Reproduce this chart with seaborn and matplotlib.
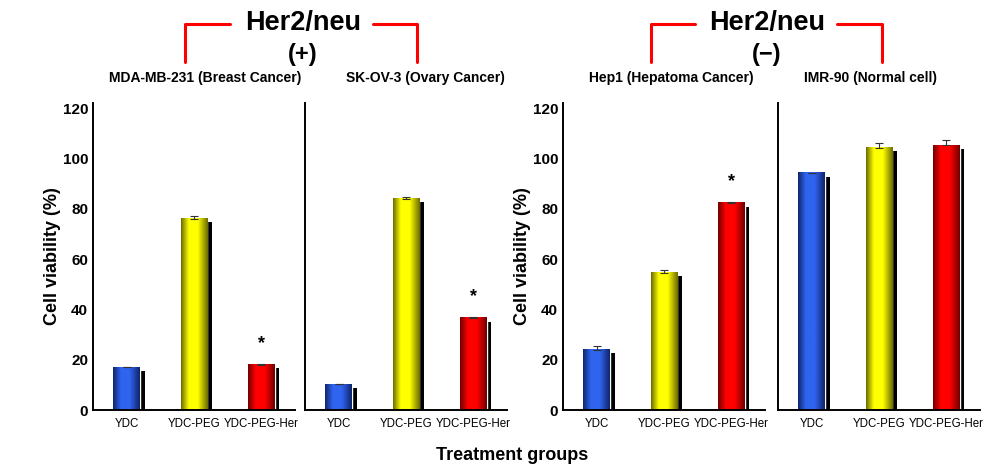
import numpy as np
import pandas as pd
import seaborn as sns
from matplotlib import pyplot as plt
from matplotlib import patheffects as pe
from matplotlib.colors import LinearSegmentedColormap

groups = ["YDC", "YDC-PEG", "YDC-PEG-Her"]
panel_titles = ["MDA-MB-231 (Breast Cancer)", "SK-OV-3 (Ovary Cancer)",
                "Hep1 (Hepatoma Cancer)", "IMR-90 (Normal cell)"]

mda_vals = [17, 76, 18]
mda_err = [0, 1.2, 0.4]
skov_vals = [10.3, 84, 36.6]
skov_err = [0, 0.6, 0.3]
hep1_vals = [24, 54.5, 82.3]
hep1_err = [1.6, 1.0, 0.5]
imr_vals = [94.2, 104.3, 105.2]
imr_err = [0, 2.0, 2.0]

significant = [[False, False, True], [False, False, True],
               [False, False, True], [False, False, False]]
yticks = [0, 20, 40, 60, 80, 100, 120]

colors = ["#2f64f0", "#ffff00", "#ff0000"]
dark = ["#10246a", "#6b6b00", "#700000"]

sns.set_style("white")
plt.rcParams['font.family'] = ['Liberation Sans', 'DejaVu Sans']
for k in ["text.color", "axes.labelcolor", "xtick.color", "ytick.color"]:
    plt.rcParams[k] = "black"

fig = plt.figure(figsize=(10.06, 4.72), dpi=100)
W, H = 1006, 472
lefts = [93, 305, 563, 778]
axes = [fig.add_axes([l / W, 1 - 410 / H, 202 / W, 307 / H]) for l in lefts]

all_vals = [mda_vals, skov_vals, hep1_vals, imr_vals]
all_err = [mda_err, skov_err, hep1_err, imr_err]

for i, ax in enumerate(axes):
    df = pd.DataFrame({"group": groups, "value": all_vals[i]})
    sns.barplot(data=df, x="group", y="value", hue="group", palette=colors,
                width=0.4, legend=False, ax=ax, saturation=1)
    for j, p in enumerate(ax.patches):
        p.set_path_effects([pe.SimplePatchShadow(offset=(3.2, -2.6), shadow_rgbFace="black", alpha=1.0),
                            pe.Normal()])
        x0, y0 = p.get_x(), p.get_y()
        w, h = p.get_width(), p.get_height()
        cmap = LinearSegmentedColormap.from_list(
            "g", [dark[j], colors[j], colors[j], dark[j]], N=256)
        grad = np.linspace(0, 1, 256)
        grad = np.interp(grad, [0, 0.35, 0.55, 1], [0.0, 0.4, 0.6, 1.0]).reshape(1, -1)
        ax.imshow(grad, extent=[x0, x0 + w, y0, y0 + h], aspect="auto",
                  cmap=cmap, zorder=p.get_zorder() + 0.1)
    lower = [0] * len(groups)
    ax.errorbar(range(len(groups)), all_vals[i], yerr=[lower, all_err[i]],
                fmt="none", ecolor="#333333", elinewidth=0.8, capsize=3, capthick=0.8, zorder=5)
    for j, s in enumerate(significant[i]):
        if s:
            ax.text(j, all_vals[i][j] + all_err[i][j] + 8, "*", ha="center", va="center",
                    fontsize=13, fontweight="bold")
    ax.set_xlim(-0.5, 2.5)
    ax.set_ylim(0, 122)
    ax.set_xlabel("")
    ax.set_ylabel("")
    for side in ["top", "right"]:
        ax.spines[side].set_visible(False)
    for side in ["left", "bottom"]:
        ax.spines[side].set_color("black")
        ax.spines[side].set_linewidth(1.4)
    ax.tick_params(axis="x", length=0, pad=6)
    ax.tick_params(axis="y", length=0, pad=3.5)
    ax.set_xticks(range(len(groups)))
    ax.set_xticklabels(groups, fontsize=8.3)
    if i in (0, 2):
        ax.set_yticks(yticks)
        ax.set_yticklabels([str(t) for t in yticks], fontsize=11, fontweight="bold")
        ax.set_ylabel("Cell viability (%)", fontsize=13, fontweight="bold", labelpad=1)
    else:
        ax.set_yticks([])
    ax.grid(False)

title_x = [205, 425, 671, 871]
for t, x in zip(panel_titles, title_x):
    fig.text(x / W, 1 - 78 / H, t, ha="center", va="center", fontsize=10, fontweight="bold")

# Her2/neu bracket annotations
for cx, sign, (l0, l1, r0, r1) in [(303, "(+)", (185, 230, 373, 417)),
                                   (767, "(\u2212)", (651, 695, 837, 882))]:
    fig.text(cx / W, 1 - 23 / H, "Her2/neu", ha="center", va="center",
             fontsize=19.5, fontweight="bold")
    fig.text(cx / W, 1 - 54 / H, sign, ha="center", va="center",
             fontsize=17, fontweight="bold")
    fig.lines.append(plt.Line2D([l0 / W, l0 / W, l1 / W], [1 - 62 / H, 1 - 24 / H, 1 - 24 / H],
                                transform=fig.transFigure, color="red", lw=2.2))
    fig.lines.append(plt.Line2D([r0 / W, r1 / W, r1 / W], [1 - 24 / H, 1 - 24 / H, 1 - 62 / H],
                                transform=fig.transFigure, color="red", lw=2.2))

fig.text(512 / W, 1 - 455 / H, "Treatment groups", ha="center", va="center",
         fontsize=13, fontweight="bold")

plt.savefig("out.png", dpi=100)
